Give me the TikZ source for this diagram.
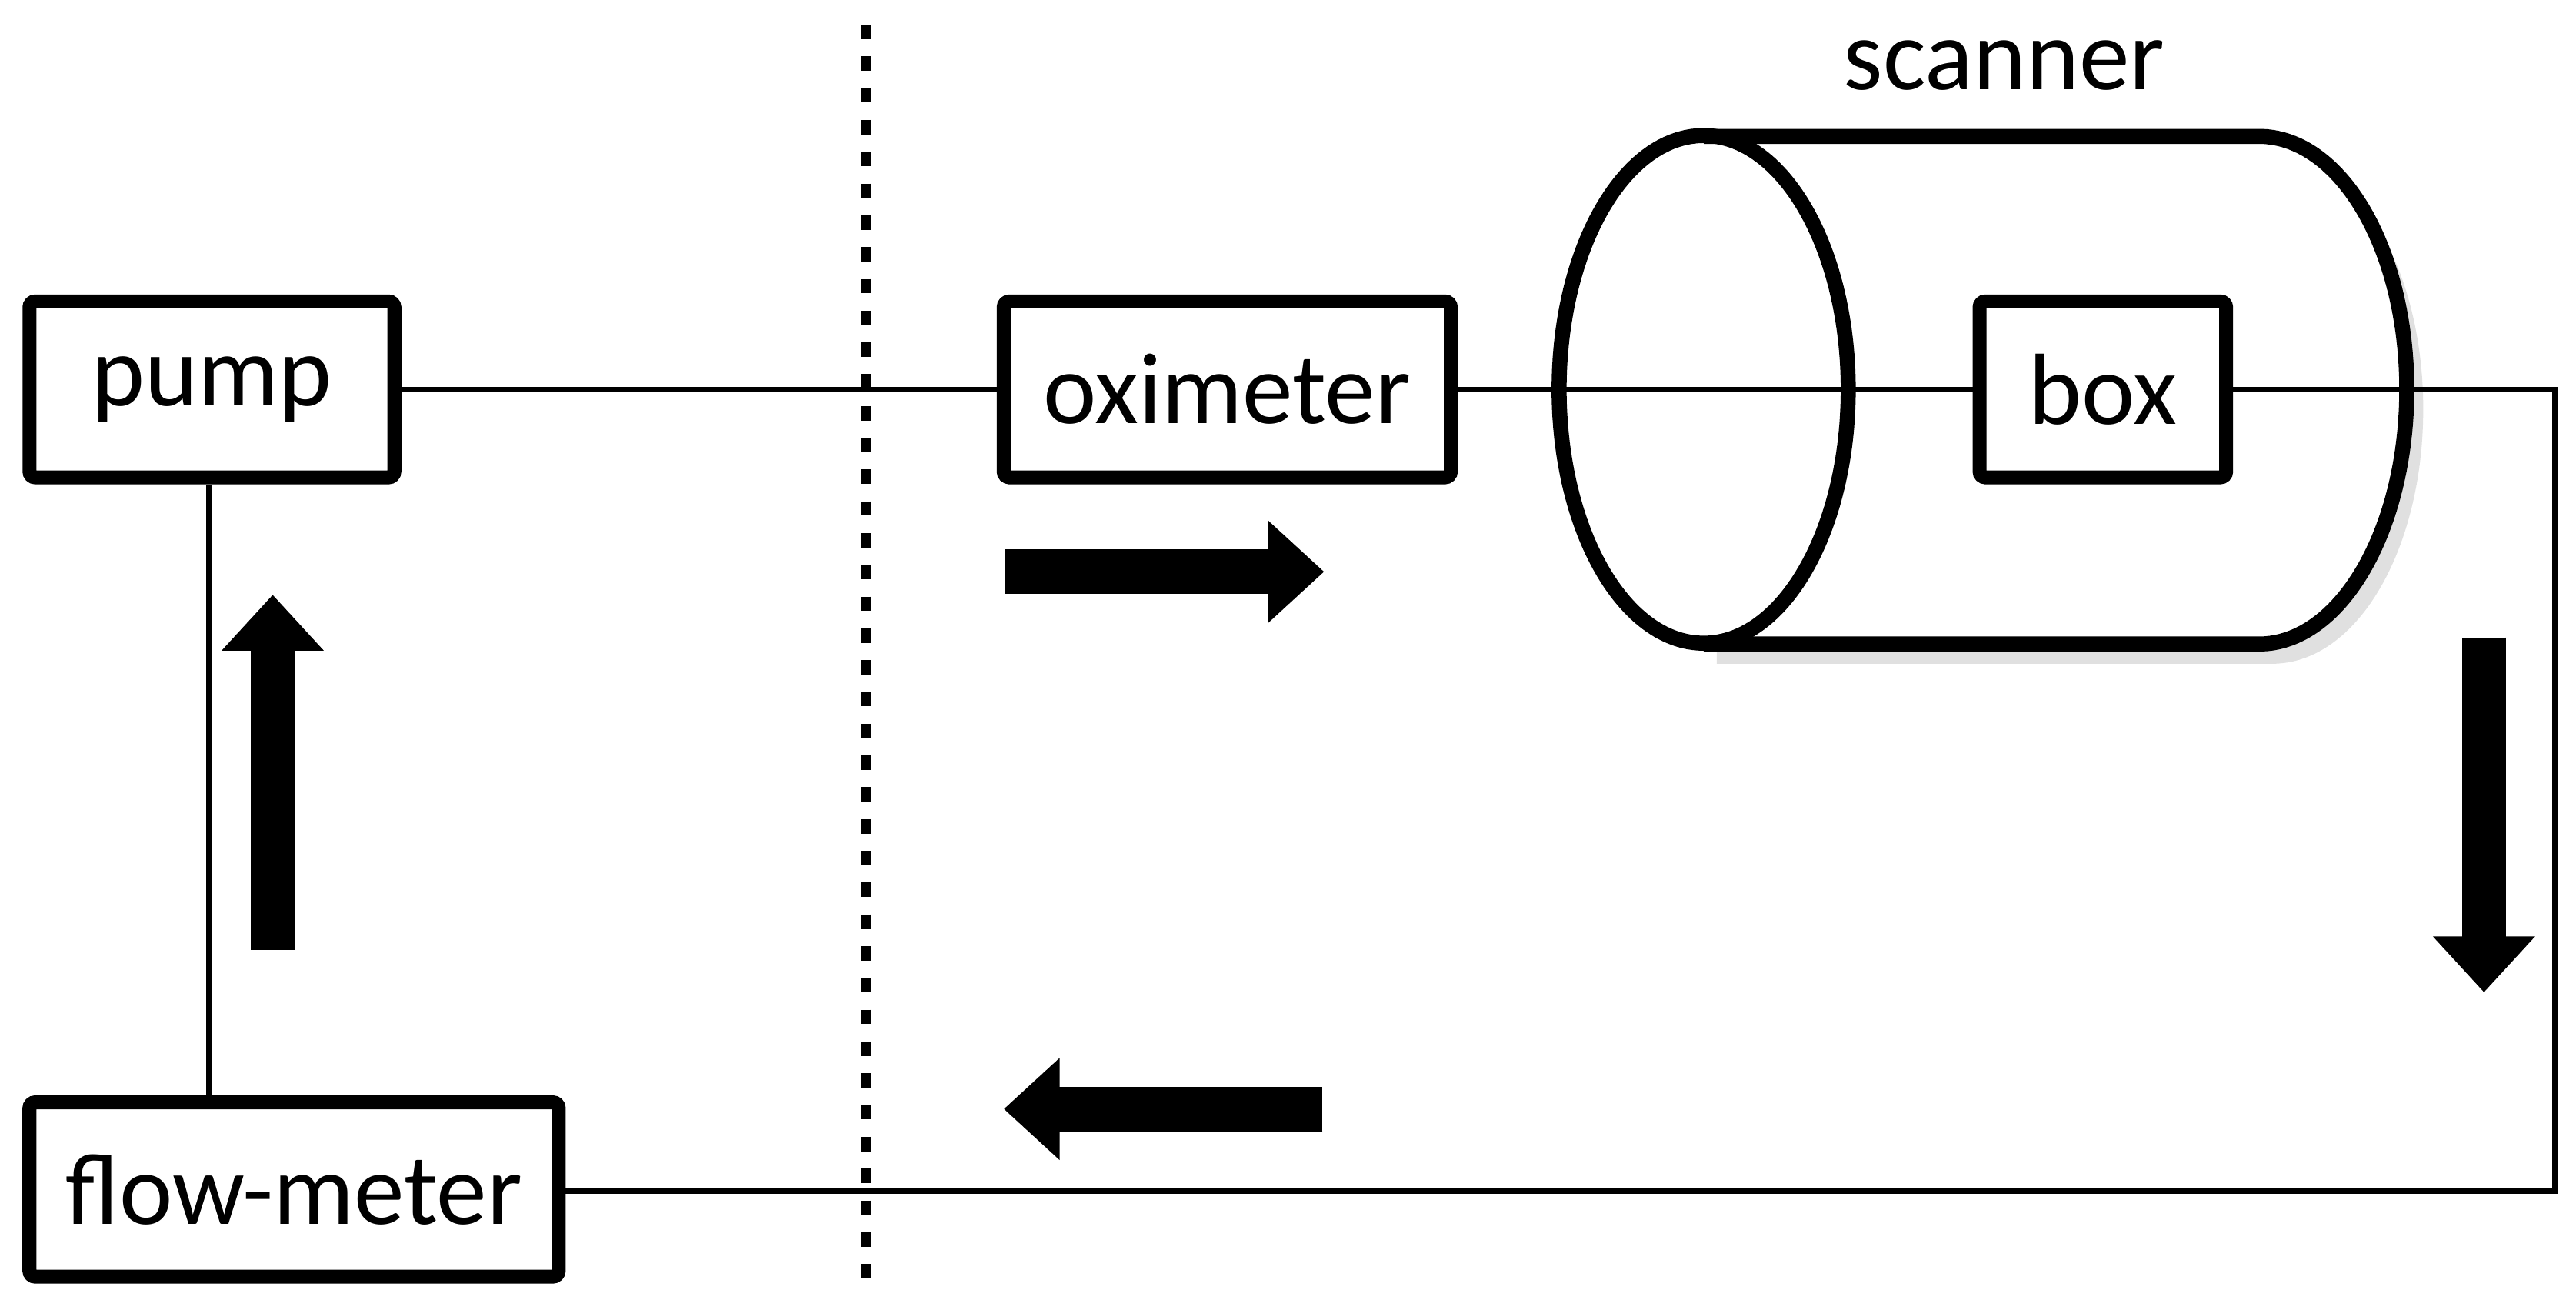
\documentclass[tikz,border=0pt]{standalone}
\usepackage{fontspec}
\setmainfont{Carlito}
\usetikzlibrary{arrows.meta}
\begin{document}
\begin{tikzpicture}[x=0.01cm,y=-0.01cm,
  blk/.style={draw,line width=2.4pt,rounded corners=1pt,fill=white,inner sep=0pt,font=\fontsize{17.5}{21}\selectfont},
  wire/.style={line width=0.9pt},
  fat/.style={line width=0.27cm,-{Triangle[length=0.34cm,width=0.6cm]}}]
\useasboundingbox (0,0) rectangle (1568,797);
% dotted divider
\draw[line width=1.6pt,dash pattern=on 2.5pt off 3pt] (527,15) -- (527,778);
% cylinder shadow
\fill[black!12] (1045,95) -- (1383,95) .. controls (1435,95) and (1475,164) .. (1475,249) .. controls (1475,334) and (1435,404) .. (1383,404) -- (1045,404) -- cycle;
% cylinder
\draw[line width=2.6pt,fill=white] (1037,83) -- (1375,83) .. controls (1425,83) and (1465,152) .. (1465,237) .. controls (1465,322) and (1425,392) .. (1375,392) -- (1037,392);
\draw[line width=2.6pt] (1037,237) ellipse[x radius=88,y radius=154.5];
\node (scan) at (1220,40) {\fontsize{17.5}{21}\selectfont scanner};
% blocks
\node[blk,minimum width=2.22cm,minimum height=1.07cm] (pump) at (129,237) {pump};
\node[blk,minimum width=3.22cm,minimum height=1.06cm] (flow) at (179,724) {flow-meter};
\node[blk,minimum width=2.72cm,minimum height=1.07cm] (oxi) at (747,237) {oximeter};
\node[blk,minimum width=1.50cm,minimum height=1.07cm] (box) at (1280,237) {box};
\coordinate (c1) at (1555,237);
\coordinate (c2) at (1555,725);
% wires
\draw[wire] (pump.east) -- (oxi.west);
\draw[wire] (oxi.east) -- (box.west);
\draw[wire] (box.east) -- (c1) -- (c2) -- (flow.east |- c2);
\draw[wire] (pump.south -| 127,0) -- (flow.north -| 127,0);
% flow arrows
\coordinate (a1) at (612,348); \coordinate (a2) at (806,348);
\coordinate (b1) at (166,578); \coordinate (b2) at (166,362);
\coordinate (d1) at (1512,388); \coordinate (d2) at (1512,604);
\coordinate (e1) at (805,675); \coordinate (e2) at (611,675);
\draw[fat] (a1) -- (a2);
\draw[fat] (b1) -- (b2);
\draw[fat] (d1) -- (d2);
\draw[fat] (e1) -- (e2);
\end{tikzpicture}
\end{document}
